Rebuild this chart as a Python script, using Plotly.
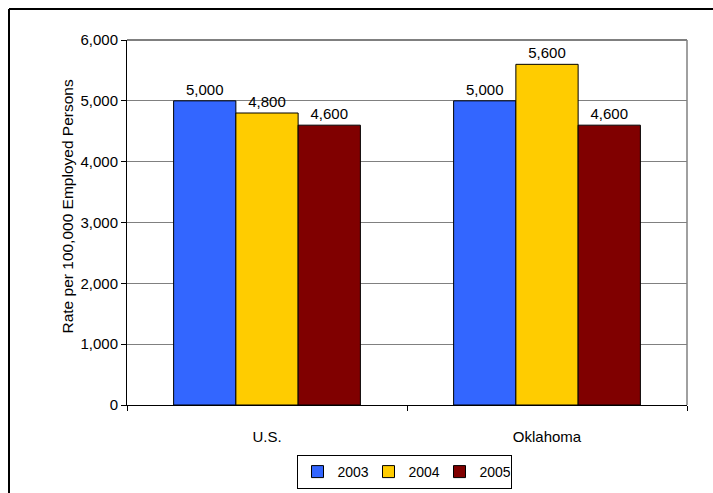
import plotly.graph_objects as go

categories = ["U.S.", "Oklahoma"]
years = ["2003", "2004", "2005"]
values_2003 = [5000, 5000]
values_2004 = [4800, 5600]
values_2005 = [4600, 4600]
colors = ["#3366FF", "#FFCC00", "#800000"]
y_ticks = [0, 1000, 2000, 3000, 4000, 5000, 6000]
y_ticklabels = ["0", "1,000", "2,000", "3,000", "4,000", "5,000", "6,000"]

FONT = "Liberation Sans, Arial, sans-serif"

fig = go.Figure()
for name, vals, col in zip(years, [values_2003, values_2004, values_2005], colors):
    fig.add_trace(go.Bar(
        name=name, x=categories, y=vals,
        marker=dict(color=col, line=dict(color="black", width=1)),
        text=[f"{v:,}" for v in vals], textposition="outside",
        textfont=dict(family=FONT, size=15, color="black"),
        cliponaxis=False,
    ))

W, H = 713, 493
L, R, T, B = 127, 26, 40, 88
pw, ph = W - L - R, H - T - B

def px(x):
    return (x - L) / pw

def py(y):
    return (H - B - y) / ph

fig.update_layout(
    width=W, height=H,
    margin=dict(l=L, r=R, t=T, b=B, autoexpand=False),
    barmode="group", bargap=0.333, bargroupgap=0,
    paper_bgcolor="white", plot_bgcolor="white",
    font=dict(family=FONT, size=15, color="black"),
    showlegend=True,
    legend=dict(orientation="h", x=px(404), xanchor="center", y=py(455), yanchor="top",
                bordercolor="black", borderwidth=1, font=dict(family=FONT, size=14),
                itemwidth=30, entrywidth=26, entrywidthmode="pixels",
                traceorder="normal", tracegroupgap=0),
    xaxis=dict(showline=True, linecolor="black", linewidth=1, mirror=False,
               ticks="outside", ticklen=5, tickcolor="black", tickson="boundaries",
               ticklabelstandoff=18, showgrid=False,
               tickfont=dict(family=FONT, size=15)),
    yaxis=dict(range=[0, 6000], tickvals=y_ticks, ticktext=y_ticklabels,
               showline=True, linecolor="black", linewidth=1,
               ticks="outside", ticklen=5, tickcolor="black",
               showgrid=True, gridcolor="#808080", gridwidth=1,
               tickfont=dict(family=FONT, size=15), zeroline=False),
    annotations=[dict(text="Rate per 100,000 Employed Persons", xref="paper", yref="paper",
                      x=px(56), y=py(207), textangle=-90, showarrow=False,
                      font=dict(family=FONT, size=15.5, color="black"))],
    shapes=[
        dict(type="line", xref="paper", yref="paper", x0=0, x1=1, y0=1, y1=1,
             line=dict(color="black", width=1)),
        dict(type="line", xref="paper", yref="paper", x0=1, x1=1, y0=0, y1=1,
             line=dict(color="#808080", width=1.5)),
        dict(type="line", xref="paper", yref="paper", x0=px(9), x1=px(9), y0=py(9), y1=py(520),
             line=dict(color="black", width=2)),
        dict(type="line", xref="paper", yref="paper", x0=px(9), x1=px(740), y0=py(9), y1=py(9),
             line=dict(color="black", width=2)),
    ],
)

fig.write_html("out.html")
